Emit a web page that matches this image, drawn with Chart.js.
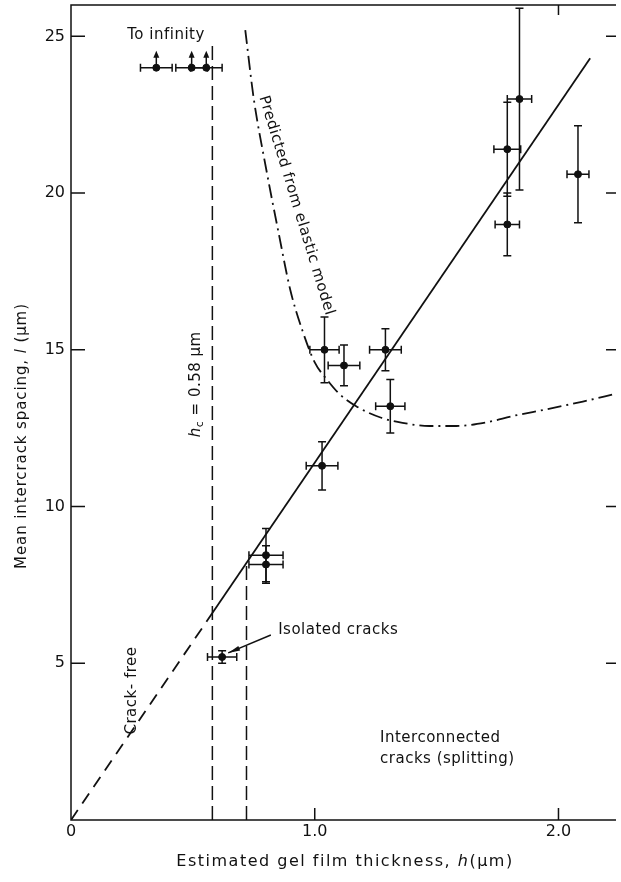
<!DOCTYPE html>
<html>
<head>
<meta charset="utf-8">
<script src="https://cdn.jsdelivr.net/npm/chart.js@4.4.1/dist/chart.umd.min.js"></script>
<style>
  body { margin: 0; background: #fff; }
  #wrap { width: 621px; height: 882px; position: relative; }
</style>
</head>
<body>
<div id="wrap"><canvas id="crackChart"></canvas></div>
<script>
// measured points (h in um, l in um) with error bars
const thickness    = [0.62, 0.80, 0.80, 1.03, 1.04, 1.12, 1.29, 1.31, 1.79, 1.79, 1.84, 2.08];
const spacing      = [5.2, 8.45, 8.15, 11.3, 15.0, 14.5, 15.0, 13.2, 21.4, 19.0, 23.0, 20.6];
const thicknessErr = [0.06, 0.07, 0.07, 0.065, 0.06, 0.065, 0.065, 0.06, 0.055, 0.05, 0.05, 0.045];
const spacingErr   = [0.2, 0.85, 0.6, 0.77, 1.05, 0.65, 0.67, 0.85, 1.5, 1.0, 2.9, 1.55];

// crack-free films, plotted at top with arrows "to infinity"
const infThickness = [0.35, 0.495, 0.555];
const infSpacing   = [24, 24, 24];
const infErr       = [0.065, 0.065, 0.065];

// linear fit l = k*h (dashed below h_c)
const fitX = [0, 0.58, 2.13];
const fitY = [0, 6.6, 24.3];

// predicted from elastic model
const elasticX = [0.715, 0.75, 0.80, 0.85, 0.90, 0.95, 1.00, 1.05, 1.10, 1.17, 1.27, 1.36, 1.47, 1.58, 1.70, 1.82, 1.95, 2.10, 2.236];
const elasticY = [25.2, 23.0, 20.8, 18.8, 16.9, 15.6, 14.6, 14.05, 13.6, 13.2, 12.84, 12.67, 12.57, 12.57, 12.68, 12.9, 13.1, 13.35, 13.6];

// boundaries
const hcLineX = [0.58, 0.58];
const hcLineY = [0, 24.8];
const isoLineX = [0.72, 0.72];
const isoLineY = [0, 8.2];

const xTicks = [0, 1, 2];
const xTickLabels = ['0', '1.0', '2.0'];
const yTicks = [5, 10, 15, 20, 25];
const yTickLabels = ['5', '10', '15', '20', '25'];

const pts = (xs, ys) => xs.map((v, i) => ({ x: v, y: ys[i] }));

const FONT = '"DejaVu Sans", sans-serif';

function drawRuns(ctx, runs, cx, cy, angle) {
    ctx.save();
    ctx.translate(cx, cy);
    ctx.rotate(angle);
    ctx.textBaseline = 'middle';
    ctx.textAlign = 'left';
    let total = 0;
    runs.forEach(r => { ctx.font = r.font; total += ctx.measureText(r.t).width; });
    let xo = -total / 2;
    runs.forEach(r => {
        ctx.font = r.font;
        ctx.fillText(r.t, xo, r.dy || 0);
        xo += ctx.measureText(r.t).width;
    });
    ctx.restore();
}

const decorations = {
    id: 'decorations',
    afterDatasetsDraw(chart) {
        const { ctx, chartArea: a, scales: { x, y } } = chart;
        ctx.save();
        ctx.strokeStyle = '#111';
        ctx.fillStyle = '#111';
        ctx.lineWidth = 1.5;
        ctx.setLineDash([]);

        // error bars
        const cap = 4;
        const bars = (xs, ys, xe, ye) => {
            xs.forEach((hv, i) => {
                const px = x.getPixelForValue(hv), py = y.getPixelForValue(ys[i]);
                const x1 = x.getPixelForValue(hv - xe[i]), x2 = x.getPixelForValue(hv + xe[i]);
                ctx.beginPath();
                ctx.moveTo(x1, py); ctx.lineTo(x2, py);
                ctx.moveTo(x1, py - cap); ctx.lineTo(x1, py + cap);
                ctx.moveTo(x2, py - cap); ctx.lineTo(x2, py + cap);
                if (ye) {
                    const y1 = y.getPixelForValue(ys[i] - ye[i]), y2 = y.getPixelForValue(ys[i] + ye[i]);
                    ctx.moveTo(px, y1); ctx.lineTo(px, y2);
                    ctx.moveTo(px - cap, y1); ctx.lineTo(px + cap, y1);
                    ctx.moveTo(px - cap, y2); ctx.lineTo(px + cap, y2);
                }
                ctx.stroke();
            });
        };
        bars(thickness, spacing, thicknessErr, spacingErr);
        bars(infThickness, infSpacing, infErr, null);

        // arrows to infinity
        infThickness.forEach((hv, i) => {
            const px = x.getPixelForValue(hv), py = y.getPixelForValue(infSpacing[i]);
            const top = py - 17;
            ctx.beginPath();
            ctx.moveTo(px, py); ctx.lineTo(px, top + 4);
            ctx.stroke();
            ctx.beginPath();
            ctx.moveTo(px, top); ctx.lineTo(px - 3, top + 7); ctx.lineTo(px + 3, top + 7);
            ctx.closePath(); ctx.fill();
        });

        // "Isolated cracks" pointer
        const ax1 = x.getPixelForValue(0.82), ay1 = y.getPixelForValue(5.9);
        const ax2 = x.getPixelForValue(0.645), ay2 = y.getPixelForValue(5.33);
        ctx.beginPath(); ctx.moveTo(ax1, ay1); ctx.lineTo(ax2, ay2); ctx.stroke();
        const ang = Math.atan2(ay2 - ay1, ax2 - ax1);
        ctx.beginPath();
        ctx.moveTo(ax2, ay2);
        ctx.lineTo(ax2 - 12 * Math.cos(ang) + 2.5 * Math.sin(ang), ay2 - 12 * Math.sin(ang) - 2.5 * Math.cos(ang));
        ctx.lineTo(ax2 - 12 * Math.cos(ang) - 2.5 * Math.sin(ang), ay2 - 12 * Math.sin(ang) + 2.5 * Math.cos(ang));
        ctx.closePath(); ctx.fill();

        // frame (right side runs off the picture) and inward ticks
        ctx.lineWidth = 1.5;
        ctx.beginPath();
        ctx.moveTo(a.right, a.top); ctx.lineTo(a.left, a.top);
        ctx.lineTo(a.left, a.bottom); ctx.lineTo(a.right, a.bottom);
        ctx.stroke();
        ctx.beginPath();
        yTicks.forEach(v => {
            const py = y.getPixelForValue(v);
            ctx.moveTo(a.left, py); ctx.lineTo(a.left + 14, py);
            ctx.moveTo(a.right - 10, py); ctx.lineTo(a.right, py);
        });
        xTicks.filter(v => v > 0).forEach(v => {
            const px = x.getPixelForValue(v);
            ctx.moveTo(px, a.bottom); ctx.lineTo(px, a.bottom - 12);
        });
        const tp = x.getPixelForValue(2);
        ctx.moveTo(tp, a.top); ctx.lineTo(tp, a.top + 10);
        ctx.stroke();

        // tick labels
        ctx.font = '16px ' + FONT;
        ctx.textBaseline = 'middle';
        ctx.textAlign = 'center';
        xTicks.forEach((v, i) => ctx.fillText(xTickLabels[i], x.getPixelForValue(v), a.bottom + 12));
        ctx.textAlign = 'right';
        yTicks.forEach((v, i) => ctx.fillText(yTickLabels[i], a.left - 6, y.getPixelForValue(v)));

        // annotations
        ctx.letterSpacing = '0.5px';
        const f = '15px ' + FONT, fi = 'italic 15px ' + FONT, fs = '11px ' + FONT;
        drawRuns(ctx, [{ t: 'To infinity', font: f }], x.getPixelForValue(0.39), y.getPixelForValue(25.04), 0);
        drawRuns(ctx, [{ t: 'Predicted from elastic model', font: f }],
            x.getPixelForValue(0.925), y.getPixelForValue(19.6), 73 * Math.PI / 180);
        drawRuns(ctx, [{ t: 'h', font: fi }, { t: 'c', font: fs, dy: 4 }, { t: ' = 0.58 μm', font: f }],
            x.getPixelForValue(0.512), y.getPixelForValue(13.9), -Math.PI / 2);
        drawRuns(ctx, [{ t: 'Crack- free', font: f }], x.getPixelForValue(0.25), y.getPixelForValue(4.13), -Math.PI / 2);
        ctx.textAlign = 'left';
        ctx.textBaseline = 'middle';
        ctx.font = f;
        ctx.fillText('Isolated cracks', x.getPixelForValue(0.85), y.getPixelForValue(6.05));
        ctx.fillText('Interconnected', x.getPixelForValue(1.268), y.getPixelForValue(2.6));
        ctx.fillText('cracks (splitting)', x.getPixelForValue(1.268), y.getPixelForValue(1.93));

        // axis titles
        ctx.letterSpacing = '1.5px';
        const g = '16px ' + FONT, gi = 'italic 16px ' + FONT;
        drawRuns(ctx, [{ t: 'Estimated gel film thickness, ', font: g }, { t: 'h', font: gi }, { t: '(μm)', font: g }],
            345, 862, 0);
        ctx.letterSpacing = '0.9px';
        drawRuns(ctx, [{ t: 'Mean intercrack spacing, ', font: f }, { t: 'l', font: fi }, { t: ' (μm)', font: f }],
            22, 436, -Math.PI / 2);
        ctx.restore();
    }
};

new Chart(document.getElementById('crackChart').getContext('2d'), {
    type: 'scatter',
    data: {
        datasets: [
            { data: pts(fitX.slice(0, 2), fitY.slice(0, 2)), showLine: true, borderColor: '#111', borderWidth: 1.8, borderDash: [12, 8], pointRadius: 0 },
            { data: pts(fitX.slice(1), fitY.slice(1)), showLine: true, borderColor: '#111', borderWidth: 1.8, pointRadius: 0 },
            { data: pts(hcLineX, hcLineY), showLine: true, borderColor: '#111', borderWidth: 1.5, borderDash: [14, 6], pointRadius: 0 },
            { data: pts(isoLineX, isoLineY), showLine: true, borderColor: '#111', borderWidth: 1.5, borderDash: [14, 6], pointRadius: 0 },
            { data: pts(elasticX, elasticY), showLine: true, borderColor: '#111', borderWidth: 1.8, borderDash: [14, 5, 2, 5], pointRadius: 0, cubicInterpolationMode: 'monotone' },
            { data: pts(thickness, spacing), pointRadius: 3.5, pointBackgroundColor: '#111', pointBorderColor: '#111' },
            { data: pts(infThickness, infSpacing), pointRadius: 3.5, pointBackgroundColor: '#111', pointBorderColor: '#111' }
        ]
    },
    options: {
        responsive: true,
        maintainAspectRatio: false,
        animation: false,
        layout: { padding: { top: 5, right: 0, left: 0, bottom: 0 } },
        plugins: { legend: { display: false }, tooltip: { enabled: false } },
        scales: {
            x: {
                type: 'linear', min: 0, max: 2.236,
                afterFit: s => { s.height = 62; },
                grid: { display: false },
                border: { display: false },
                ticks: { display: false }
            },
            y: {
                type: 'linear', min: 0, max: 26,
                afterFit: s => { s.width = 71; },
                grid: { display: false },
                border: { display: false },
                ticks: { display: false }
            }
        }
    },
    plugins: [decorations]
});
</script>
</body>
</html>
